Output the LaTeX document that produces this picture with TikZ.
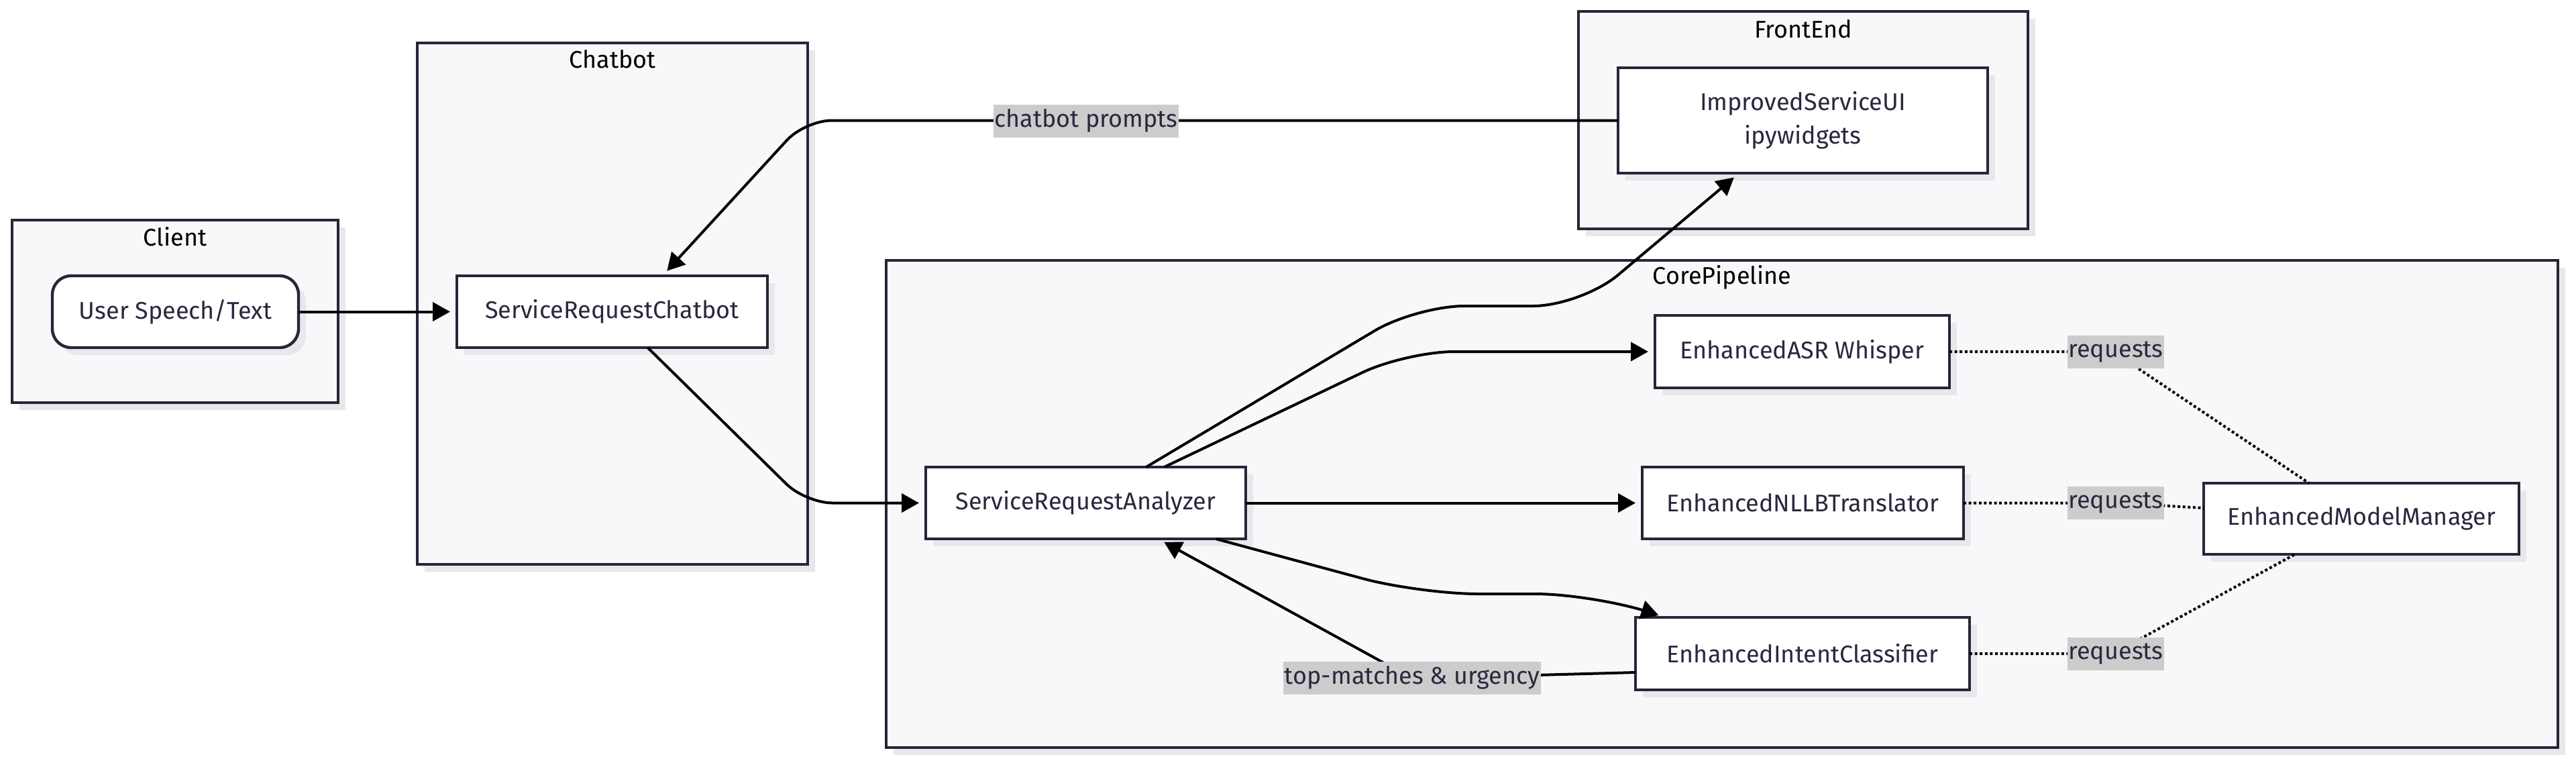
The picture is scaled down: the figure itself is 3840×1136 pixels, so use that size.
\documentclass[tikz,border=0pt]{standalone}
\usepackage{fontspec}
\setmainfont{Fira Sans}
\usetikzlibrary{arrows.meta,calc,shadows,backgrounds}
\definecolor{bordc}{RGB}{38,38,58}
\definecolor{textc}{RGB}{40,40,62}
\definecolor{clfill}{RGB}{248,248,250}
\definecolor{shadc}{RGB}{232,232,236}
\definecolor{lblc}{RGB}{204,204,204}
\tikzset{
  shad/.style={general shadow={fill=shadc, shadow xshift=2.75pt, shadow yshift=-2.75pt}},
  cluster/.style={draw=bordc, line width=0.9pt, fill=clfill, shad, inner sep=0pt, outer sep=0pt},
  ctitle/.style={font=\fontsize{9pt}{11pt}\selectfont, text=black, inner sep=0pt},
  box/.style={draw=bordc, line width=1.1pt, fill=white, shad, inner sep=0pt, outer sep=0pt,
    font=\fontsize{9pt}{12.5pt}\selectfont, text=textc, align=center},
  elabel/.style={fill=lblc, inner xsep=0.4pt, inner ysep=0pt, minimum height=12.25pt,
    font=\fontsize{9pt}{11pt}\selectfont, text=textc},
  conn/.style={line width=1pt, draw=black, rounded corners=10pt},
  arr/.style={conn, -{Triangle[length=6.5pt,width=7pt]}, shorten >=2.5pt},
  dotc/.style={line width=1pt, draw=black, dash pattern=on 1pt off 0.9pt, rounded corners=4pt}
}
\begin{document}
\begin{tikzpicture}[x=0.25pt,y=-0.25pt]
\useasboundingbox (0,0) rectangle (3840,1136);
% nodes
\node[box, rounded corners=7pt, minimum width=91.75pt, minimum height=26.75pt] (user) at (261.5,464.5) {User Speech/Text};
\node[box, minimum width=115.75pt, minimum height=26.75pt] (src) at (912.5,464.5) {ServiceRequestChatbot};
\node[box, minimum width=137.75pt, minimum height=39.25pt] (isui) at (2687.5,179.5) {ImprovedServiceUI\\ipywidgets};
\node[box, minimum width=119.25pt, minimum height=26.75pt] (sra) at (1618.5,749.5) {ServiceRequestAnalyzer};
\node[box, minimum width=109.75pt, minimum height=27pt] (asr) at (2686.5,524) {EnhancedASR Whisper};
\node[box, minimum width=119.75pt, minimum height=26.75pt] (nllb) at (2687.5,749.5) {EnhancedNLLBTranslator};
\node[box, minimum width=124.5pt, minimum height=27pt] (intent) at (2687,974) {EnhancedIntentClassifier};
\node[box, minimum width=117.5pt, minimum height=26.5pt] (emm) at (3520,773) {EnhancedModelManager};
% clusters
\begin{scope}[on background layer]
\node[cluster, minimum width=121.5pt, minimum height=68pt] (clientbox) at (261,464) {};
\node[cluster, minimum width=145.5pt, minimum height=194.25pt] (chatbox) at (913,452.5) {};
\node[cluster, minimum width=167.5pt, minimum height=81pt] (frontbox) at (2688,179) {};
\node[cluster, minimum width=623pt, minimum height=181.5pt] (corebox) at (2567,751) {};
\end{scope}
\node[ctitle] (clientt) at (261,353) {Client};
\node[ctitle] (chatt) at (913,88) {Chatbot};
\node[ctitle] (frontt) at (2688,43) {FrontEnd};
\node[ctitle] (coret) at (2567,413) {CorePipeline};
% edges
\draw[arr] (user) -- (src);
\draw[arr] (isui.west) -- (1200,179.5) -- ($(src.north)+(75,0)$);
\draw[arr] ($(src.south)+(53,0)$) -- (1201,749.5) -- (sra.west);
\draw[arr, rounded corners=18pt] ($(sra.north)+(90,0)$) -- (2111,456) -- (2357,456) -- ($(isui.south)+(-95,0)$);
\draw[arr, rounded corners=18pt] ($(sra.north)+(117,0)$) -- (2096,524) -- (asr.west);
\draw[arr] (sra) -- (nllb);
\draw[arr, rounded corners=22pt] ($(sra.south)+(194,0)$) -- (2116,885) -- (2376,885) -- ($(intent.north)+(-205,0)$);
\draw[arr] ($(intent.west)+(0,28)$) -- (2105,1011) -- ($(sra.south)+(108,0)$);
\draw[dotc] (asr.east) -- (3150,524) -- ($(emm.north)+(-78,0)$);
\draw[dotc] (nllb.east) -- (3154,749.5) -- ($(emm.west)+(0,-16)$);
\draw[dotc] (intent.east) -- (3150,974) -- ($(emm.south)+(-99,0)$);
% labels
\node[elabel] (l1) at (1619,180) {chatbot prompts};
\node[elabel] (l2) at (2105,1010) {top-matches \& urgency};
\node[elabel] (l3) at (3154,524) {requests};
\node[elabel] (l4) at (3154,749.5) {requests};
\node[elabel] (l5) at (3154,974) {requests};
\end{tikzpicture}
\end{document}
